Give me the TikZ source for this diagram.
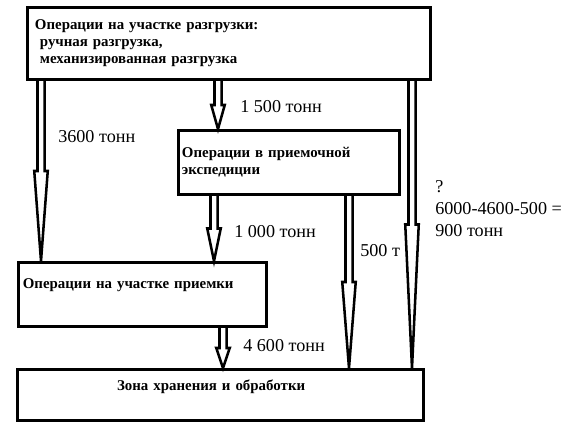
\documentclass[tikz,border=0pt]{standalone}
\usepackage{fontspec}
\setmainfont{Liberation Serif}
\usetikzlibrary{calc}

\newcommand{\boxfont}{\bfseries\fontsize{10.6}{12.2}\selectfont}
\newcommand{\qtyfont}{\fontsize{12.9}{15.6}\selectfont}

\tikzset{
  opbox/.style={draw, line width=2pt, font=\boxfont, align=left, inner ysep=0pt},
  qty/.style={font=\qtyfont, anchor=west, inner sep=0pt, align=left},
  blockarrow/.style={draw, line width=1.8pt, line join=miter,
    to path={let \p1=(\tikztostart), \p2=(\tikztotarget) in
      (\x1-2.5pt,\y1) -- (\x1-2.5pt,{(\y1+\y2)/2}) -- (\x1-4.8pt,{(\y1+\y2)/2})
      -- (\x1,\y2) -- (\x1+4.8pt,{(\y1+\y2)/2}) -- (\x1+2.5pt,{(\y1+\y2)/2})
      -- (\x1+2.5pt,\y1)}}
}

\begin{document}
\begin{tikzpicture}[x=0.025cm, y=-0.025cm]

\useasboundingbox (0,0) rectangle (580,438);

% Boxes
\node[opbox, minimum width=10.075cm, minimum height=1.8cm,
      text width=9.7cm, inner xsep=0.19cm] (unload) at (229,43.5)
    {Операции на участке разгрузки:\\
     ~ручная разгрузка,\\
     ~механизированная разгрузка};

\node[opbox, minimum width=5.525cm, minimum height=1.6cm,
      text width=5.35cm, inner xsep=0.09cm] (expedition) at (289,162.5)
    {Операции в приемочной\\экспедиции};

\node[opbox, minimum width=6.2cm, minimum height=1.6cm,
      text width=5.98cm, inner xsep=0.11cm, text depth=15pt] (intake) at (142.5,294.5)
    {Операции на участке приемки};

\node[opbox, minimum width=10.15cm, minimum height=1.275cm,
      text width=10.15cm, inner xsep=0cm, text depth=13.5pt] (storage) at (220.5,395)
    {\hspace*{2.49cm}Зона хранения и обработки};

% Arrow positions
\coordinate (a3600) at (41,0);
\coordinate (a1500) at (218,0);
\coordinate (a1000) at (214,0);
\coordinate (a500)  at (349,0);
\coordinate (a900)  at (412,0);
\coordinate (a4600) at (223,0);

% Block arrows
\draw[blockarrow] (a3600 |- unload.south) to (a3600 |- intake.north);
\draw[blockarrow] (a1500 |- unload.south) to (a1500 |- expedition.north);
\draw[blockarrow] (a1000 |- expedition.south) to (a1000 |- intake.north);
\draw[blockarrow] (a500 |- expedition.south) to (a500 |- storage.north);
\draw[blockarrow] (a900 |- unload.south) to (a900 |- storage.north);
\draw[blockarrow] (a4600 |- intake.south) to (a4600 |- storage.north);

% Quantities
\node[qty] (q3600) at (58,137) {3600 тонн};
\node[qty] (q1500) at (240,107) {1 500 тонн};
\node[qty] (q1000) at (234,232) {1 000 тонн};
\node[qty] (q500)  at (360,251) {500 т};
\node[qty] (q4600) at (243,346) {4 600 тонн};
\node[qty] (q900)  at (435,209) {?\\6000-4600-500 =\\900 тонн};

\end{tikzpicture}
\end{document}
